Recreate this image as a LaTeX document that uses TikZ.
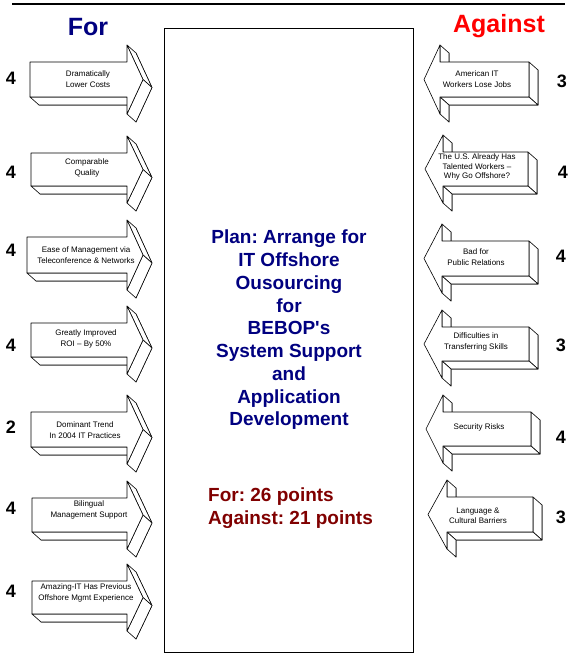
\documentclass[tikz,border=0pt]{standalone}
\usepackage{fontspec}
\setmainfont{Liberation Sans}[Ligatures=TeXOff]
\frenchspacing
\definecolor{forblue}{RGB}{0,0,128}
\definecolor{ptsred}{RGB}{128,0,0}
\definecolor{agred}{RGB}{255,0,0}
\tikzset{
  arrowface/.style={fill=white,draw=black,line width=0.6pt,line join=round},
  atext/.style={font=\fontsize{8}{10.5}\selectfont, align=center, inner sep=0pt},
  score/.style={font=\fontsize{18}{18}\selectfont\bfseries, inner sep=0pt},
  title/.style={font=\fontsize{25}{25}\selectfont\bfseries, inner sep=0pt, anchor=base},
}
% right-pointing 3D arrow: xL top bot xHead xTip
\newcommand{\RArrow}[5]{%
  \pgfmathsetmacro\aM{(#2+#3)/2}%
  \pgfmathsetmacro\aT{#2-17}%
  \pgfmathsetmacro\aB{#3+17}%
  \begin{scope}[shift={(9,8)}]
    \filldraw[arrowface] (#1,#2) -- (#4,#2) -- (#4,\aT) -- (#5,\aM) -- (#4,\aB) -- (#4,#3) -- (#1,#3) -- cycle;
  \end{scope}
  \filldraw[arrowface] (#1,#3) -- (#4,#3) -- ++(9,8) -- ++({#1-#4},0) -- cycle;
  \filldraw[arrowface] (#4,\aT) -- (#5,\aM) -- ++(9,8) -- ++({#4-#5},{\aT-\aM}) -- cycle;
  \filldraw[arrowface] (#5,\aM) -- (#4,\aB) -- ++(9,8) -- ++({#5-#4},{\aM-\aB}) -- cycle;
  \filldraw[arrowface] (#1,#2) -- (#4,#2) -- (#4,\aT) -- (#5,\aM) -- (#4,\aB) -- (#4,#3) -- (#1,#3) -- cycle;
}
% left-pointing 3D arrow: xR top bot xHead xTip
\newcommand{\LArrow}[5]{%
  \pgfmathsetmacro\aM{(#2+#3)/2}%
  \pgfmathsetmacro\aT{#2-17}%
  \pgfmathsetmacro\aB{#3+17}%
  \begin{scope}[shift={(9,8)}]
    \filldraw[arrowface] (#1,#2) -- (#4,#2) -- (#4,\aT) -- (#5,\aM) -- (#4,\aB) -- (#4,#3) -- (#1,#3) -- cycle;
  \end{scope}
  \filldraw[arrowface] (#4,#2) -- (#4,\aT) -- ++(9,8) -- ++(0,{#2-\aT}) -- cycle;
  \filldraw[arrowface] (#1,#2) -- (#1,#3) -- ++(9,8) -- ++(0,{#2-#3}) -- cycle;
  \filldraw[arrowface] (#4,#3) -- (#1,#3) -- ++(9,8) -- ++({#4-#1},0) -- cycle;
  \filldraw[arrowface] (#4,#3) -- (#4,\aB) -- ++(9,8) -- ++(0,{#3-\aB}) -- cycle;
  \filldraw[arrowface] (#1,#2) -- (#4,#2) -- (#4,\aT) -- (#5,\aM) -- (#4,\aB) -- (#4,#3) -- (#1,#3) -- cycle;
}
\begin{document}
\begin{tikzpicture}[x=1pt,y=-1pt]
\useasboundingbox (0,0) rectangle (576,657);
% top rule
\coordinate (ruleL) at (12,4);
\coordinate (ruleR) at (565,4);
\draw[line width=2pt] (ruleL) -- (ruleR);
% titles
\node[title, text=forblue] (tfor) at (88,35) {For};
\node[title, text=agred] (tagainst) at (499,32) {Against};
% centre box
\node[draw=black, line width=1pt, minimum width=249pt, minimum height=624pt, inner sep=0pt] (box) at (288.5,340) {};
\node[font=\fontsize{19}{22.75}\selectfont\bfseries, text=forblue, align=center, inner sep=0pt, anchor=north] (plan) at (289,230)
  {Plan: Arrange for\\IT Offshore\\Ousourcing\\for\\BEBOP's\\System Support\\and\\Application\\Development};
\node[font=\fontsize{19}{23}\selectfont\bfseries, text=ptsred, align=left, inner sep=0pt, anchor=north west] (pts) at (208,488)
  {For: 26 points\\Against: 21 points};
% left arrows (For)
\RArrow{30}{62}{97}{127}{143}
\RArrow{31}{153}{186}{127}{143}
\RArrow{27}{237}{273}{127}{143}
\RArrow{31}{323}{357}{127}{143}
\RArrow{31}{412}{447}{127}{143}
\RArrow{32}{498}{532}{127}{143}
\RArrow{32}{581}{614}{127}{143}
\node[atext] (l1) at (88,79) {Dramatically\\Lower Costs};
\node[atext] (l2) at (87,168) {Comparable\\Quality};
\node[atext] (l3) at (86,255) {Ease of Management via\\Teleconference \& Networks};
\node[atext] (l4) at (86,339) {Greatly Improved\\ROI \textendash{} By 50\%};
\node[atext] (l5) at (85,430) {Dominant Trend\\In 2004 IT Practices};
\node[atext] (l6) at (89,510) {Bilingual\\Management Support};
\node[atext] (l7) at (86,593) {Amazing-IT Has Previous\\Offshore Mgmt Experience};
\node[score] (n1) at (11,78) {4};
\node[score] (n2) at (11,172) {4};
\node[score] (n3) at (11,250) {4};
\node[score] (n4) at (11,345) {4};
\node[score] (n5) at (11,427) {2};
\node[score] (n6) at (11,508) {4};
\node[score] (n7) at (11,591) {4};
% right arrows (Against)
\LArrow{529}{62}{97}{440}{424}
\LArrow{528}{152}{186}{443}{425}
\LArrow{529}{241}{276}{442}{424}
\LArrow{529}{327}{361}{442}{424}
\LArrow{531}{412}{446}{443}{426}
\LArrow{533}{497}{532}{447}{428}
\node[atext] (r1) at (477,79) {American IT\\Workers Lose Jobs};
\node[atext, font=\fontsize{8}{9.5}\selectfont] (r2) at (477,167) {The U.S. Already Has\\Talented Workers \textendash\\Why Go Offshore?};
\node[atext] (r3) at (476,257) {Bad for\\Public Relations};
\node[atext] (r4) at (476,342) {Difficulties in\\Transferring Skills};
\node[atext] (r5) at (479,427) {Security Risks};
\node[atext] (r6) at (478,516) {Language \&\\Cultural Barriers};
\node[score] (m1) at (562,81) {3};
\node[score] (m2) at (563,172) {4};
\node[score] (m3) at (561,256) {4};
\node[score] (m4) at (561,345) {3};
\node[score] (m5) at (561,437) {4};
\node[score] (m6) at (561,517) {3};
\end{tikzpicture}
\end{document}
